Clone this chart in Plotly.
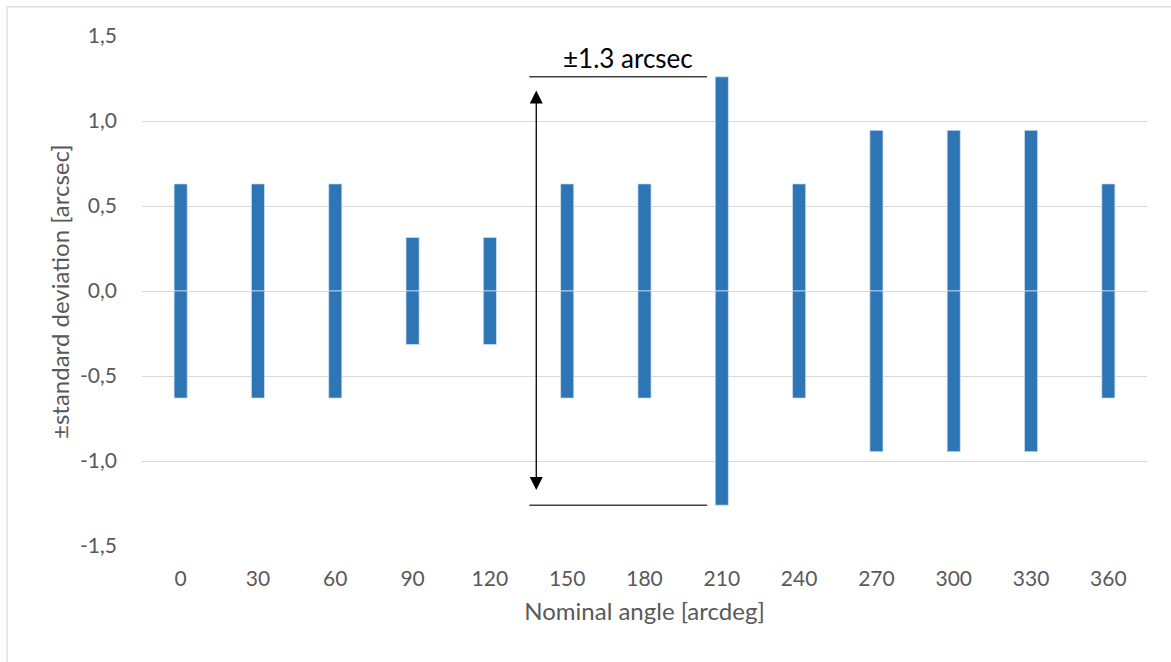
import plotly.graph_objects as go

angles = ["0", "30", "60", "90", "120", "150", "180", "210", "240", "270", "300", "330", "360"]
std_dev = [0.63, 0.63, 0.63, 0.315, 0.315, 0.63, 0.63, 1.26, 0.63, 0.945, 0.945, 0.945, 0.63]
y_ticks = [-1.5, -1.0, -0.5, 0.0, 0.5, 1.0, 1.5]
y_ticklabels = ["-1,5", "-1,0", "-0,5", "0,0", "0,5", "1,0", "1,5"]
y_title = "±standard deviation [arcsec]"
x_title = "Nominal angle [arcdeg]"
span_label = "±1.3 arcsec"
span_value = 1.26

BLUE = "#2E75B6"
FONT = "Lato, 'Open Sans', sans-serif"
EDGE = "rgba(215,228,245,0.9)"

fig = go.Figure()
fig.add_trace(go.Bar(x=angles, y=std_dev, marker=dict(color=BLUE, line=dict(color=EDGE, width=0.8)),
                     width=0.17, showlegend=False))
fig.add_trace(go.Bar(x=angles, y=[-v for v in std_dev], marker=dict(color=BLUE, line=dict(color=EDGE, width=0.8)),
                     width=0.17, showlegend=False))

# horizontal reference lines at ±span
for yv in (span_value, -span_value):
    fig.add_shape(type="line", xref="x", yref="y", x0=4.51, x1=6.81, y0=yv, y1=yv,
                  line=dict(color="#404040", width=1.5))

# double arrow
fig.add_annotation(x=4.6, y=1.18, ax=4.6, ay=-1.18, xref="x", yref="y", axref="x", ayref="y",
                   showarrow=True, arrowhead=2, startarrowhead=2, arrowside="end+start",
                   arrowsize=2.0, startarrowsize=2.0, arrowwidth=1.3, arrowcolor="#000000", text="")
fig.add_annotation(x=5.79, y=1.37, xref="x", yref="y", text=span_label, showarrow=False,
                   font=dict(family=FONT, size=26, color="#000000"))

# y axis title as rotated annotation for precise placement
fig.add_annotation(x=-0.0826, y=0.5, xref="paper", yref="paper", text=y_title, textangle=-90,
                   showarrow=False, xanchor="center", yanchor="middle",
                   font=dict(family=FONT, size=24, color="#595959"))

# outer border
fig.add_shape(type="rect", xref="paper", yref="paper", x0=-0.1343, x1=1.05, y0=-0.3, y1=1.057,
              line=dict(color="#d9d9d9", width=1.2), fillcolor="rgba(0,0,0,0)", layer="below")

fig.update_layout(
    width=1171, height=662,
    margin=dict(l=142, r=24, t=36, b=116),
    paper_bgcolor="white", plot_bgcolor="white",
    barmode="relative",
    font=dict(family=FONT, size=21, color="#595959"),
    xaxis=dict(type="category", range=[-0.5, 12.5], showgrid=False, showline=False, zeroline=False,
               ticks="", ticklabelstandoff=18, tickfont=dict(size=21, color="#595959"),
               title=dict(text=x_title, font=dict(size=24, color="#595959"), standoff=14)),
    yaxis=dict(range=[-1.5, 1.5], tickvals=y_ticks, ticktext=y_ticklabels, showgrid=True,
               gridcolor="#d9d9d9", gridwidth=1.2, zeroline=False, showline=False, ticks="",
               ticklabelstandoff=24, tickfont=dict(size=21, color="#595959")),
)

fig.write_html("out.html", config={"displayModeBar": False},
               post_script="document.body.style.margin='0';")
